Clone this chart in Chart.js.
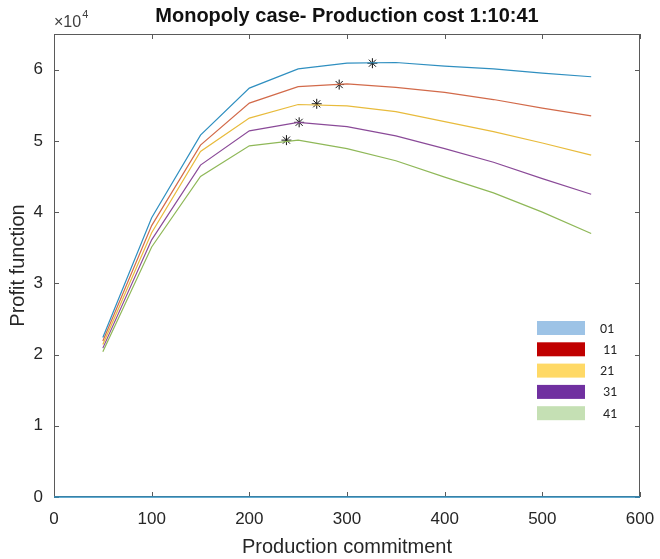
<!DOCTYPE html>
<html>
<head>
<meta charset="utf-8">
<title>Monopoly case</title>
<script src="https://cdn.jsdelivr.net/npm/chart.js@4/dist/chart.umd.min.js"></script>
<style>
  html, body { margin: 0; padding: 0; background: #ffffff; }
  #wrap { width: 660px; height: 559px; position: relative; }
</style>
</head>
<body>
<div id="wrap"><canvas id="profitChart" width="660" height="559"></canvas></div>
<script>
// Production commitment levels (x) and profit per cost level
const commitment = [50, 100, 150, 200, 250, 300, 350, 400, 450, 500, 550];
const profit01 = [22400, 39200, 50800, 57400, 60100, 60900, 61000, 60500, 60100, 59500, 59000];
const profit11 = [21900, 38100, 49400, 55300, 57600, 58000, 57500, 56800, 55800, 54600, 53500];
const profit21 = [21400, 37100, 48500, 53200, 55100, 54900, 54100, 52700, 51300, 49700, 48000];
const profit31 = [20900, 36100, 46600, 51400, 52600, 52000, 50700, 48900, 47000, 44700, 42500];
const profit41 = [20400, 35100, 45000, 49300, 50100, 48900, 47200, 44900, 42700, 40000, 37000];

// optimum (max profit) marked with asterisks
const optimumX = [326, 292, 269, 251, 238];
const optimumY = [60900, 57900, 55200, 52600, 50100];

// zero line along the bottom
const baselineX = [0, 600];
const baselineY = [0, 0];

// axis ticks
const xTickValues = [0, 100, 200, 300, 400, 500, 600];
const yTickValues = [0, 10000, 20000, 30000, 40000, 50000, 60000];

const costLabels = ['01', '11', '21', '31', '41'];
const lineColors = ['#2f8fc0', '#d26a4a', '#e8bb3c', '#8a4a98', '#8fb858'];
const legendColors = ['#9dc3e6', '#c00000', '#ffd966', '#7030a0', '#c5e0b4'];

const AXIS_FONT = "Arial, 'Liberation Sans', Helvetica, sans-serif";
const TEXT_COLOR = '#262626';

function toPoints(xs, ys) {
    return xs.map((x, i) => ({ x: x, y: ys[i] }));
}

const profitSeries = [profit01, profit11, profit21, profit31, profit41];

const datasets = [{
    label: 'baseline',
    data: toPoints(baselineX, baselineY),
    borderColor: lineColors[0],
    borderWidth: 1.5,
    pointRadius: 0,
    clip: 4
}];
profitSeries.forEach((ys, i) => {
    datasets.push({
        label: costLabels[i],
        data: toPoints(commitment, ys),
        borderColor: lineColors[i],
        borderWidth: 1.2,
        pointRadius: 0,
        tension: 0
    });
});
datasets.push({
    label: 'optimum',
    data: toPoints(optimumX, optimumY),
    showLine: false,
    pointStyle: 'star',
    pointRadius: 5,
    borderColor: '#111111',
    borderWidth: 1,
    backgroundColor: '#111111'
});

// MATLAB-style frame: box + inward ticks under the lines, title/exponent/legend on top
const matlabFrame = {
    id: 'matlabFrame',
    beforeDatasetsDraw(chart) {
        const ctx = chart.ctx;
        const area = chart.chartArea;
        const xs = chart.scales.x;
        const ys = chart.scales.y;
        ctx.save();
        ctx.strokeStyle = '#5a5a5a';
        ctx.lineWidth = 1;
        ctx.strokeRect(area.left + 0.5, area.top + 0.5, area.right - area.left - 1, area.bottom - area.top - 1);

        const tl = 5;
        ctx.beginPath();
        xs.ticks.forEach(t => {
            const px = Math.round(xs.getPixelForValue(t.value)) + 0.5;
            ctx.moveTo(px, area.bottom); ctx.lineTo(px, area.bottom - tl);
            ctx.moveTo(px, area.top); ctx.lineTo(px, area.top + tl);
        });
        ys.ticks.forEach(t => {
            const py = Math.round(ys.getPixelForValue(t.value)) + 0.5;
            ctx.moveTo(area.left, py); ctx.lineTo(area.left + tl, py);
            ctx.moveTo(area.right, py); ctx.lineTo(area.right - tl, py);
        });
        ctx.stroke();
        ctx.restore();
    },
    afterDraw(chart) {
        const ctx = chart.ctx;
        const area = chart.chartArea;
        ctx.save();

        // title
        const cx = (area.left + area.right) / 2;
        ctx.fillStyle = '#111111';
        ctx.font = 'bold 20px ' + AXIS_FONT;
        ctx.textAlign = 'center';
        ctx.textBaseline = 'alphabetic';
        ctx.fillText('Monopoly case- Production cost 1:10:41', cx, 22);

        // exponent label
        ctx.fillStyle = '#404040';
        ctx.textAlign = 'left';
        ctx.font = '16px ' + AXIS_FONT;
        ctx.fillText('\u00d710', area.left, 27);
        const w = ctx.measureText('\u00d710').width;
        ctx.font = '11px ' + AXIS_FONT;
        ctx.fillText('4', area.left + w + 1, 18);

        // legend
        const bx = area.right - 103;
        const by = area.bottom - 176;
        const rowGap = 21.3;
        ctx.font = "14px Calibri, Carlito, 'Liberation Sans', sans-serif";
        ctx.textBaseline = 'middle';
        costLabels.forEach((lab, i) => {
            const y = by + i * rowGap;
            ctx.fillStyle = legendColors[i];
            ctx.fillRect(bx, y, 48, 14);
            ctx.fillStyle = '#262626';
            ctx.fillText(lab, bx + 63 + (i % 2 === 1 || i === 4 ? 3 : 0), y + 8);
        });

        ctx.restore();
    }
};

const ctx = document.getElementById('profitChart').getContext('2d');
const chart = new Chart(ctx, {
    type: 'line',
    data: { datasets: datasets },
    options: {
        responsive: false,
        animation: false,
        devicePixelRatio: 1,
        layout: { padding: { top: 34, right: 20, left: 0, bottom: 0 } },
        plugins: {
            legend: { display: false },
            tooltip: { enabled: false }
        },
        scales: {
            x: {
                type: 'linear',
                min: 0,
                max: 600,
                grid: { display: false, drawTicks: false },
                border: { display: false },
                afterBuildTicks(scale) { scale.ticks = xTickValues.map(v => ({ value: v })); },
                ticks: {
                    padding: 12,
                    color: TEXT_COLOR,
                    font: { family: AXIS_FONT, size: 17 },
                    maxRotation: 0,
                    autoSkip: false
                },
                title: {
                    display: true,
                    text: 'Production commitment',
                    color: TEXT_COLOR,
                    font: { family: AXIS_FONT, size: 20 },
                    padding: { top: 1, bottom: 0 }
                },
                afterFit(scale) {
                    scale.height = 62;
                    scale.paddingLeft = 0;
                    scale.paddingRight = 0;
                }
            },
            y: {
                type: 'linear',
                min: 0,
                max: 65000,
                grid: { display: false, drawTicks: false },
                border: { display: false },
                afterBuildTicks(scale) { scale.ticks = yTickValues.map(v => ({ value: v })); },
                ticks: {
                    padding: 11,
                    color: TEXT_COLOR,
                    font: { family: AXIS_FONT, size: 17 },
                    autoSkip: false,
                    callback: v => String(v / 10000)
                },
                title: {
                    display: true,
                    text: 'Profit function',
                    color: TEXT_COLOR,
                    font: { family: AXIS_FONT, size: 20 },
                    padding: { top: 6, bottom: 0 }
                },
                afterFit(scale) {
                    scale.width = 54;
                    scale.paddingTop = 0;
                    scale.paddingBottom = 0;
                }
            }
        }
    },
    plugins: [matlabFrame]
});
</script>
</body>
</html>
